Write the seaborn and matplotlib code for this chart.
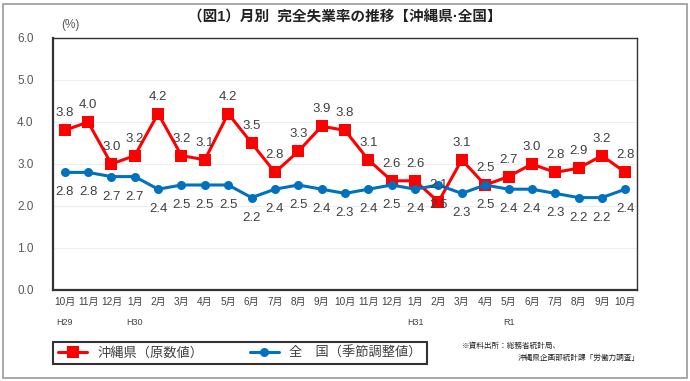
import seaborn as sns
import matplotlib.pyplot as plt
import pandas as pd

# month labels, Oct H29 -> Oct R1
months = ["10月", "11月", "12月", "1月", "2月", "3月", "4月", "5月", "6月", "7月", "8月", "9月",
          "10月", "11月", "12月", "1月", "2月", "3月", "4月", "5月", "6月", "7月", "8月", "9月", "10月"]
era_pos = [0, 3, 15, 19]
era_names = ["H29", "H30", "H31", "R1"]

okinawa = [3.8, 4.0, 3.0, 3.2, 4.2, 3.2, 3.1, 4.2, 3.5, 2.8, 3.3, 3.9, 3.8,
           3.1, 2.6, 2.6, 2.1, 3.1, 2.5, 2.7, 3.0, 2.8, 2.9, 3.2, 2.8]
national = [2.8, 2.8, 2.7, 2.7, 2.4, 2.5, 2.5, 2.5, 2.2, 2.4, 2.5, 2.4, 2.3,
            2.4, 2.5, 2.4, 2.5, 2.3, 2.5, 2.4, 2.4, 2.3, 2.2, 2.2, 2.4]

df = pd.DataFrame({"pos": range(len(months)), "okinawa": okinawa, "national": national})

sns.set_theme(style="white")
plt.rcParams["font.family"] = ["Liberation Sans", "Noto Sans CJK JP", "DejaVu Sans"]

W, H = 690, 381
fig = plt.figure(figsize=(6.9, 3.81), dpi=100)

# outer frame
fig.patches.append(plt.Rectangle((3 / W, 3 / H), 684 / W, 374 / H, transform=fig.transFigure,
                                 fill=False, edgecolor="#9a9a9a", lw=1.2))

ax = fig.add_axes([53 / W, (H - 290) / H, 584 / W, 252 / H])

red = "#FF0000"
blue = "#0070C0"
sns.lineplot(data=df, x="pos", y="okinawa", ax=ax, color=red, lw=2.2, marker="s",
             markersize=8, markeredgewidth=0, label="沖縄県（原数値）", legend=False)
sns.lineplot(data=df, x="pos", y="national", ax=ax, color=blue, lw=2.2, marker="o",
             markersize=6.5, markeredgewidth=0, label="全　国（季節調整値）", legend=False)

for i, v in enumerate(okinawa):
    ax.annotate(f"{v:.1f}", (i, v), xytext=(0, 17), textcoords="offset pixels",
                ha="center", va="center", fontsize=9.5, color="#404040")
for i, v in enumerate(national):
    ax.annotate(f"{v:.1f}", (i, v), xytext=(0, -20), textcoords="offset pixels",
                ha="center", va="center", fontsize=9.5, color="#404040")

ax.set_xlim(-0.5, len(months) - 0.5)
ax.set_ylim(0, 6)
ax.set_yticks([0, 1, 2, 3, 4, 5, 6])
ax.set_yticklabels([f"{t:.1f}" for t in range(7)], fontsize=8.5, color="#595959")
ax.set_xticks(range(len(months)))
ax.set_xticklabels(months, fontsize=7.2, color="#404040")
ax.tick_params(axis="both", length=0, pad=5)
ax.tick_params(axis="y", pad=14)
ax.set_xlabel("")
ax.set_ylabel("")
ax.grid(axis="y", color="#eeeeee", lw=0.8)
for s in ax.spines.values():
    s.set_color("#333333")
    s.set_linewidth(1.0)
ax.spines["left"].set_linewidth(1.6)
ax.spines["bottom"].set_linewidth(1.6)

for p, n in zip(era_pos, era_names):
    ax.text(p, -0.13, n, transform=ax.get_xaxis_transform(), ha="center", va="center",
            fontsize=6.5, color="#404040")

fig.text(345 / W, 1 - 18 / H, "（図1）月別  完全失業率の推移【沖縄県·全国】", ha="center", va="center",
         fontsize=10.5, fontweight="bold", color="#222222")
fig.text(70 / W, 1 - 25 / H, "(%)", ha="center", va="center", fontsize=8.5, color="#595959")

leg = fig.legend(loc="center", bbox_to_anchor=(240 / W, 1 - 353 / H), ncol=2, fontsize=9.5,
                 frameon=True, fancybox=False, edgecolor="black", handlelength=2.2,
                 columnspacing=3.5, borderpad=0.35)
leg.get_frame().set_linewidth(1.5)
for t in leg.get_texts():
    t.set_color("#404040")

fig.text(462 / W, 1 - 346 / H, "※資料出所：総務省統計局、", fontsize=5.5, color="#222222", va="center")
fig.text(640 / W, 1 - 358 / H, "沖縄県企画部統計課「労働力調査」", fontsize=5.5, color="#222222",
         va="center", ha="right")

fig.savefig("out.png", dpi=100)
